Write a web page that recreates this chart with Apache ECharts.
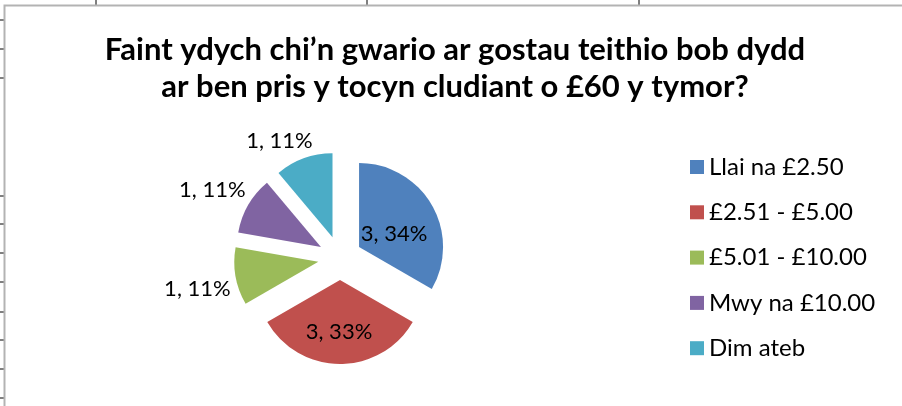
<!DOCTYPE html>
<html>
<head>
<meta charset="utf-8">
<script src="https://cdn.jsdelivr.net/npm/echarts@6/dist/echarts.min.js"></script>
<style>
  html, body { margin: 0; padding: 0; background: #fff; }
  #main { width: 902px; height: 406px; }
</style>
</head>
<body>
<div id="main"></div>
<script>
var titleLines = ['Faint ydych chi\u2019n gwario ar gostau teithio bob dydd', 'ar ben pris y tocyn cludiant o \u00a360 y tymor?'];
var categories = ['Llai na \u00a32.50', '\u00a32.51 - \u00a35.00', '\u00a35.01 - \u00a310.00', 'Mwy na \u00a310.00', 'Dim ateb'];
var values = [3, 3, 1, 1, 1];
var colours = ['#4F81BD', '#C0504D', '#9BBB59', '#8064A2', '#4BACC6'];

// Excel puts the labels a little off where echarts would, nudge them (dx, dy)
var labelNudge = [[-4, 9], [-1, 7], [5, 12], [7, -14], [17, -15]];

// spreadsheet grid ticks peeking out round the chart box
var topTicks = [96, 367, 639];
var leftTicks = [20, 49, 78, 196, 224, 253, 282, 312, 340, 369, 398];

var font = 'Lato';

var chart = echarts.init(document.getElementById('main'), null, { renderer: 'canvas' });

var gridBits = [];
topTicks.forEach(x => gridBits.push({
    type: 'line', shape: { x1: x, y1: 0, x2: x, y2: 5 }, style: { stroke: '#000', lineWidth: 1 }
}));
leftTicks.forEach(y => gridBits.push({
    type: 'line', shape: { x1: 0, y1: y, x2: 4, y2: y }, style: { stroke: '#000', lineWidth: 1 }
}));
gridBits.push({
    type: 'rect', shape: { x: 4.5, y: 5.5, width: 1000, height: 1000 },
    style: { fill: 'none', stroke: '#b3b3b3', lineWidth: 2 }
});

var pieData = values.map((v, i) => {
    var big = v > 1;
    return {
        name: categories[i],
        value: v,
        selected: true,
        itemStyle: { color: colours[i] },
        label: big ? { position: 'inside' } : { position: 'outside' },
        labelLine: { show: false, length: 3, length2: 2 }
    };
});

var option = {
    animation: false,
    title: {
        text: titleLines.join('\n'),
        left: 450,
        top: 26,
        textAlign: 'center',
        textStyle: {
            fontFamily: font,
            fontWeight: 'bold',
            fontSize: 31,
            lineHeight: 37,
            color: '#000'
        }
    },
    legend: {
        orient: 'vertical',
        left: 690,
        top: 155,
        padding: 0,
        itemWidth: 14,
        itemHeight: 14,
        itemGap: 21.3,
        icon: 'rect',
        data: categories,
        textStyle: { fontFamily: font, fontSize: 24, color: '#000', padding: [0, 0, 0, 0] }
    },
    graphic: gridBits,
    series: [{
        type: 'pie',
        center: [340, 258],
        radius: 84,
        startAngle: 90,
        clockwise: true,
        selectedMode: 'multiple',
        selectedOffset: 22,
        percentPrecision: 0,
        silent: true,
        label: {
            formatter: '{c}, {d}%',
            fontFamily: font,
            fontSize: 22,
            color: '#000'
        },
        labelLayout: p => ({ dx: labelNudge[p.dataIndex][0], dy: labelNudge[p.dataIndex][1] }),
        data: pieData
    }]
};

chart.setOption(option);
</script>
</body>
</html>
